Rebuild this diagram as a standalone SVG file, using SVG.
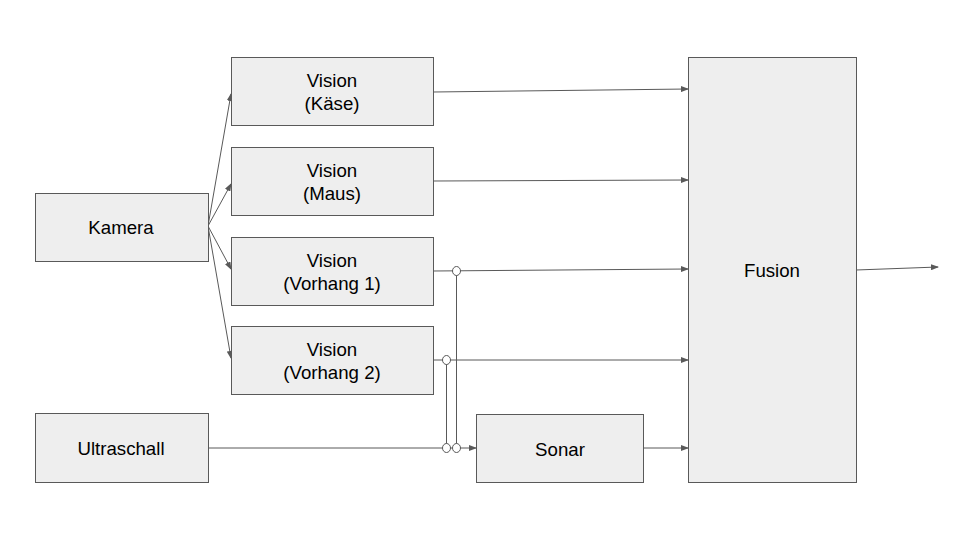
<svg xmlns="http://www.w3.org/2000/svg" width="960" height="540" viewBox="0 0 960 540">
<defs>
<marker id="ah" markerWidth="8" markerHeight="6" refX="7" refY="3" orient="auto" markerUnits="userSpaceOnUse">
<path d="M0,0 L8,3 L0,6 Z" fill="#595959"/>
</marker>
<style>
.box{fill:#eeeeee;stroke:#595959;stroke-width:1}
.t{font-family:"Liberation Sans",Arial,sans-serif;font-size:18.67px;fill:#000;text-anchor:middle;dominant-baseline:central}
.c{fill:none;stroke:#595959;stroke-width:1}
.a{marker-end:url(#ah)}
.hop{fill:#ffffff;stroke:#595959;stroke-width:1}
</style>
</defs>
<rect width="960" height="540" fill="#ffffff"/>
<g id="connectors">
<line class="c a" x1="208" y1="226" x2="231" y2="94"/>
<line class="c a" x1="208" y1="226" x2="231" y2="184"/>
<line class="c a" x1="208" y1="226" x2="231" y2="269"/>
<line class="c a" x1="208" y1="226" x2="231" y2="358"/>
<line class="c a" x1="433" y1="92" x2="688" y2="89"/>
<line class="c a" x1="433" y1="181" x2="688" y2="180"/>
<line class="c a" x1="433" y1="271" x2="688" y2="269"/>
<line class="c a" x1="433" y1="360" x2="688" y2="360"/>
<line class="c a" x1="208" y1="448" x2="476" y2="448"/>
<line class="c a" x1="643" y1="448" x2="688" y2="448"/>
<line class="c a" x1="856" y1="270" x2="938" y2="267"/>
<line class="c" x1="446.5" y1="360" x2="446.5" y2="448"/>
<line class="c" x1="456.5" y1="271" x2="456.5" y2="448"/>
<ellipse class="hop" cx="456.5" cy="271" rx="4" ry="4.5"/>
<ellipse class="hop" cx="446.5" cy="360" rx="4" ry="4.5"/>
<ellipse class="hop" cx="446.5" cy="448" rx="4" ry="4.5"/>
<ellipse class="hop" cx="456.5" cy="448" rx="4" ry="4.5"/>
</g>
<g id="kamera"><rect class="box" x="35.5" y="193.5" width="173" height="68"/><text class="t" x="121" y="227">Kamera</text></g>
<g id="ultraschall"><rect class="box" x="35.5" y="413.5" width="173" height="69"/><text class="t" x="121" y="448">Ultraschall</text></g>
<g id="vision-kaese"><rect class="box" x="231.5" y="57.5" width="202" height="68"/><text class="t" x="332" y="80">Vision</text><text class="t" x="332" y="103">(Käse)</text></g>
<g id="vision-maus"><rect class="box" x="231.5" y="147.5" width="202" height="68"/><text class="t" x="332" y="170">Vision</text><text class="t" x="332" y="193">(Maus)</text></g>
<g id="vision-vorhang1"><rect class="box" x="231.5" y="237.5" width="202" height="68"/><text class="t" x="332" y="260">Vision</text><text class="t" x="332" y="283">(Vorhang 1)</text></g>
<g id="vision-vorhang2"><rect class="box" x="231.5" y="326.5" width="202" height="68"/><text class="t" x="332" y="349">Vision</text><text class="t" x="332" y="372">(Vorhang 2)</text></g>
<g id="sonar"><rect class="box" x="476.5" y="414.5" width="167" height="68"/><text class="t" x="560" y="449">Sonar</text></g>
<g id="fusion"><rect class="box" x="688.5" y="57.5" width="168" height="425"/><text class="t" x="772" y="270">Fusion</text></g>
</svg>
